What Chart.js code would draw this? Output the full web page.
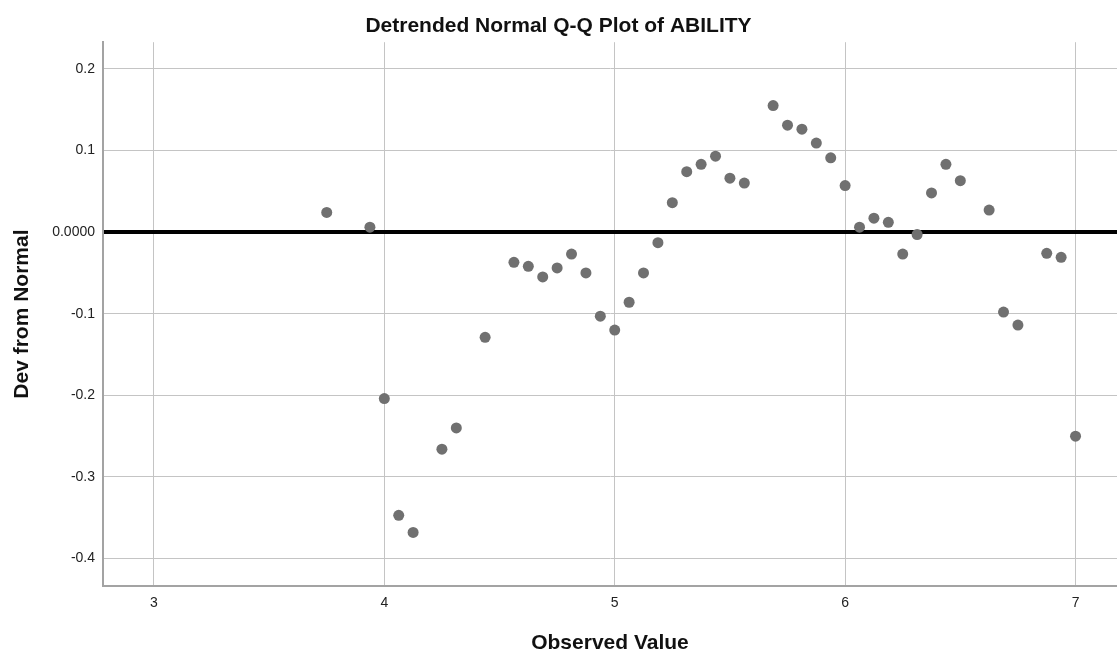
<!DOCTYPE html>
<html>
<head>
<meta charset="utf-8">
<title>Detrended Normal Q-Q Plot of ABILITY</title>
<script src="https://cdn.jsdelivr.net/npm/chart.js@4.4.1/dist/chart.umd.min.js"></script>
<style>
  html, body { margin: 0; padding: 0; background: #fff; }
  #wrap { width: 1117px; height: 652px; }
</style>
</head>
<body>
<div id="wrap"><canvas id="qq" width="1117" height="652"></canvas></div>
<script>
// observed values of ABILITY and their deviation from the normal line
const observed = [
  3.75, 3.9375, 4.0, 4.0625, 4.125, 4.25, 4.3125, 4.4375,
  4.5625, 4.625, 4.6875, 4.75, 4.8125, 4.875, 4.9375, 5.0,
  5.0625, 5.125, 5.1875, 5.25, 5.3125, 5.375, 5.4375, 5.5,
  5.5625, 5.6875, 5.75, 5.8125, 5.875, 5.9375, 6.0, 6.0625,
  6.125, 6.1875, 6.25, 6.3125, 6.375, 6.4375, 6.5, 6.625,
  6.6875, 6.75, 6.875, 6.9375, 7.0
];
const devFromNormal = [
  0.024, 0.006, -0.204, -0.347, -0.368, -0.266, -0.240, -0.129,
  -0.037, -0.042, -0.055, -0.044, -0.027, -0.050, -0.103, -0.120,
  -0.086, -0.050, -0.013, 0.036, 0.074, 0.083, 0.093, 0.066,
  0.060, 0.155, 0.131, 0.126, 0.109, 0.091, 0.057, 0.006,
  0.017, 0.012, -0.027, -0.003, 0.048, 0.083, 0.063, 0.027,
  -0.098, -0.114, -0.026, -0.031, -0.250
];
const xTicks = [3, 4, 5, 6, 7];
const yTicks = [-0.4, -0.3, -0.2, -0.1, 0, 0.1, 0.2];

const FONT = 'Arial, "Liberation Sans", sans-serif';
const gridColor = '#c4c4c4';
const axisColor = '#a3a3a3';

const points = observed.map((x, i) => ({ x, y: devFromNormal[i] }));

new Chart(document.getElementById('qq').getContext('2d'), {
  type: 'scatter',
  data: {
    datasets: [
      {
        label: 'ABILITY',
        data: points,
        backgroundColor: '#707070',
        borderWidth: 0,
        pointRadius: 5.5,
        pointHoverRadius: 5.5
      }
    ]
  },
  options: {
    responsive: false,
    animation: false,
    events: [],
    layout: { padding: 0, autoPadding: false },
    plugins: {
      legend: { display: false },
      tooltip: { enabled: false },
      title: {
        display: true,
        text: 'Detrended Normal Q-Q Plot of ABILITY',
        color: '#111',
        font: { family: FONT, size: 21, weight: 'bold', lineHeight: 1.2 },
        padding: { top: 14, bottom: 3 }
      }
    },
    scales: {
      x: {
        type: 'linear',
        min: 2.779,
        max: 7.18,
        afterBuildTicks: (s) => { s.ticks = xTicks.map((v) => ({ value: v })); },
        afterFit: (s) => {
          s.height = 66;
          s.paddingLeft = 0;
          s.paddingRight = 0;
        },
        grid: { color: gridColor, lineWidth: 1, drawTicks: false },
        border: { display: true, color: axisColor, width: 2 },
        ticks: {
          padding: 9,
          color: '#222',
          font: { family: FONT, size: 14 },
          maxRotation: 0
        },
        title: {
          display: true,
          text: 'Observed Value',
          color: '#111',
          font: { family: FONT, size: 21, weight: 'bold', lineHeight: 0.8 },
          padding: { top: 0, bottom: 0 }
        }
      },
      y: {
        type: 'linear',
        min: -0.4336,
        max: 0.2326,
        afterBuildTicks: (s) => { s.ticks = yTicks.map((v) => ({ value: v })); },
        afterFit: (s) => { s.width = 103; },
        grid: {
          drawTicks: false,
          color: (c) => (c.tick && c.tick.value === 0 ? '#000' : gridColor),
          lineWidth: (c) => (c.tick && c.tick.value === 0 ? 4 : 1)
        },
        border: { display: true, color: axisColor, width: 2 },
        ticks: {
          padding: 8,
          color: '#222',
          font: { family: FONT, size: 14 },
          callback: (v) => (Math.abs(v) < 1e-9 ? '0.0000' : v.toFixed(1))
        },
        title: {
          display: true,
          text: 'Dev from Normal',
          color: '#111',
          font: { family: FONT, size: 21, weight: 'bold', lineHeight: 1 },
          padding: { top: 12, bottom: 0 }
        }
      }
    }
  }
});
</script>
</body>
</html>
